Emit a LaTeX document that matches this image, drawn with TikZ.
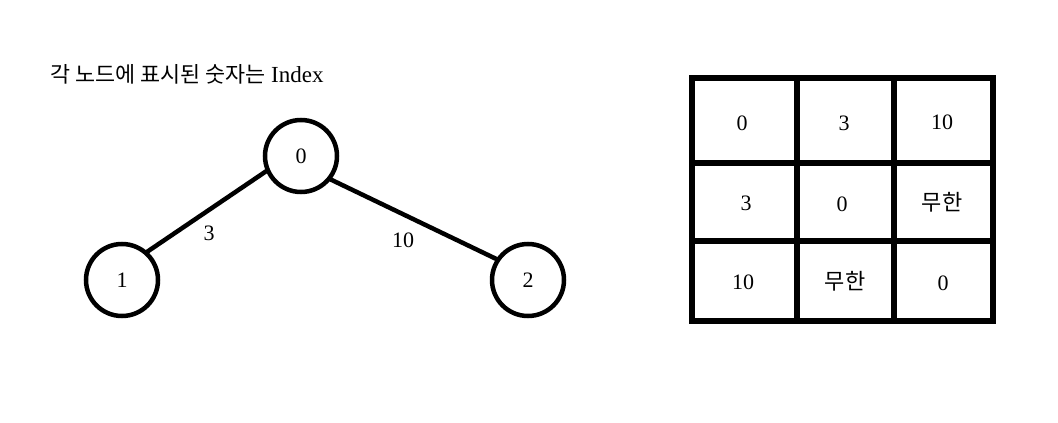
\documentclass[tikz,border=0pt]{standalone}
\usepackage{fontspec}
\setmainfont{Liberation Serif}
\newfontfamily\kr{Noto Sans CJK KR}
\begin{document}
\begin{tikzpicture}[x=1pt,y=-1pt,
  vert/.style={circle,draw,line width=4.5pt,minimum size=72pt,inner sep=0pt,outer sep=0pt,font=\fontsize{22}{24}\selectfont},
  edge/.style={line width=4.5pt},
  wlabel/.style={font=\fontsize{22}{24}\selectfont},
  cell/.style={font=\fontsize{22}{24}\selectfont},
  gridline/.style={line width=5.5pt}]
\useasboundingbox (0,0) rectangle (1058,423);
\node[anchor=west,font=\fontsize{23}{26}\selectfont,inner sep=0pt] (title) at (50,74) {{\kr\fontsize{21.8}{26}\selectfont 각 노드에 표시된 숫자는} Index};
\node[vert] (n0) at (301,156) {0};
\node[vert] (n1) at (122,280) {1};
\node[vert] (n2) at (528,280) {2};
\draw[edge] (n0.203) -- (n1.49);
\draw[edge] (n0.-39) -- (n2.146);
\node[wlabel] (l3) at (209,233) {3};
\node[wlabel] (l10) at (403,240) {10};
% grid
\draw[gridline] (692,78) rectangle (993,321);
\draw[gridline] (797,78) -- (797,321);
\draw[gridline] (894,78) -- (894,321);
\draw[gridline] (692,163) -- (993,163);
\draw[gridline] (692,241) -- (993,241);
\node[cell] (c11) at (742,123) {0};
\node[cell] (c12) at (844,123) {3};
\node[cell] (c13) at (942,122) {10};
\node[cell] (c21) at (746,203) {3};
\node[cell] (c22) at (842,204) {0};
\node[cell] (c23) at (942,202) {{\kr 무한}};
\node[cell] (c31) at (743,282) {10};
\node[cell] (c32) at (845,281) {{\kr 무한}};
\node[cell] (c33) at (943,283) {0};
\end{tikzpicture}
\end{document}
